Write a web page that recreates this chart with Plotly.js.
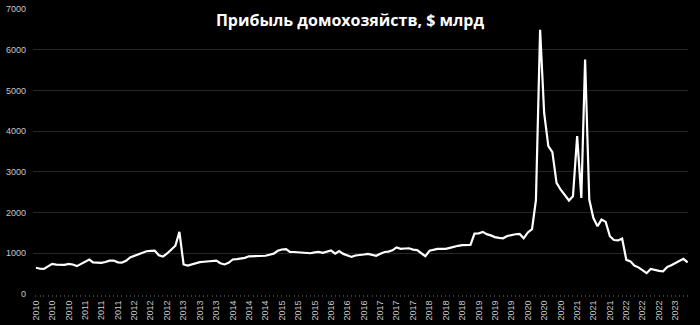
<!DOCTYPE html>
<html>
<head>
<meta charset="utf-8">
<script src="https://cdn.plot.ly/plotly-3.0.1.min.js"></script>
<style>
html,body{margin:0;padding:0;background:#000;}
#chart{width:700px;height:325px;}
</style>
</head>
<body>
<div id="chart"></div>
<script>
// Monthly data, Jan 2010 .. Apr 2023
var startYear = 2010;
var values2010 = [645, 620, 618, 685, 740, 723, 720, 715, 740, 725, 685, 735];
var values2011 = [787, 845, 777, 764, 764, 787, 820, 820, 777, 772, 817, 899];
var values2012 = [940, 970, 1011, 1050, 1057, 1066, 950, 920, 996, 1083, 1185, 1526];
var values2013 = [726, 698, 726, 756, 782, 792, 796, 807, 820, 756, 726, 766];
var values2014 = [848, 856, 868, 887, 925, 928, 928, 945, 940, 965, 991, 1062];
var values2015 = [1093, 1103, 1034, 1032, 1028, 1025, 1011, 1001, 1021, 1034, 1011, 1047];
var values2016 = [1067, 993, 1052, 985, 950, 911, 945, 950, 970, 986, 965, 940];
var values2017 = [986, 1032, 1042, 1072, 1144, 1108, 1118, 1123, 1091, 1077, 1001, 930];
var values2018 = [1062, 1093, 1108, 1108, 1108, 1134, 1164, 1184, 1200, 1210, 1205, 1484];
var values2019 = [1490, 1526, 1470, 1439, 1398, 1378, 1368, 1424, 1455, 1468, 1476, 1368];
var values2020 = [1511, 1592, 2306, 6487, 4447, 3632, 3484, 2729, 2561, 2429, 2296, 2401];
var values2021 = [3876, 2361, 5760, 2320, 1870, 1664, 1828, 1771, 1419, 1327, 1317, 1363];
var values2022 = [838, 802, 700, 654, 593, 512, 614, 583, 568, 559, 665, 705];
var values2023 = [766, 818, 862, 777];

var yearly = [values2010, values2011, values2012, values2013, values2014, values2015,
              values2016, values2017, values2018, values2019, values2020, values2021,
              values2022, values2023];

var months = [];
var values = [];
yearly.forEach(function (arr, yi) {
  arr.forEach(function (v, mi) {
    var m = mi + 1;
    months.push((startYear + yi) + '-' + (m < 10 ? '0' + m : m) + '-01');
    values.push(v);
  });
});

var titleText = 'Прибыль домохозяйств, $ млрд';

var trace = {
  x: months,
  y: values,
  type: 'scatter',
  mode: 'lines',
  line: {color: '#ffffff', width: 2.2},
  hoverinfo: 'skip'
};

var layout = {
  width: 700,
  height: 325,
  paper_bgcolor: '#000000',
  plot_bgcolor: '#000000',
  margin: {l: 33, r: 12, t: 9, b: 31, pad: 0},
  showlegend: false,
  title: {
    text: '<b>' + titleText + '</b>',
    font: {family: 'Open Sans, sans-serif', size: 16, color: '#ffffff'},
    x: 0.5, xanchor: 'center',
    y: 0.938, yanchor: 'middle'
  },
  xaxis: {
    type: 'date',
    range: ['2009-12-10', '2023-04-04'],
    tick0: '2010-01-01',
    dtick: 'M4',
    tickformat: '%Y',
    tickangle: -90,
    ticks: 'outside',
    ticklen: 2,
    tickcolor: '#3a3a3a',
    tickfont: {family: 'Liberation Sans, Arial, sans-serif', size: 9, color: '#c8c8c8'},
    showgrid: false,
    zeroline: false,
    showline: false,
    minor: {dtick: 'M1', ticks: 'outside', ticklen: 2, tickcolor: '#3a3a3a', showgrid: false},
    automargin: false,
    fixedrange: true
  },
  yaxis: {
    range: [0, 7000],
    dtick: 1000,
    tick0: 0,
    showgrid: true,
    gridcolor: '#262626',
    gridwidth: 1,
    zeroline: false,
    showline: false,
    ticks: '',
    ticklabelstandoff: 6,
    tickfont: {family: 'Liberation Sans, Arial, sans-serif', size: 9, color: '#c8c8c8'},
    automargin: false,
    fixedrange: true
  }
};

Plotly.newPlot('chart', [trace], layout, {displayModeBar: false, staticPlot: true});
</script>
</body>
</html>
